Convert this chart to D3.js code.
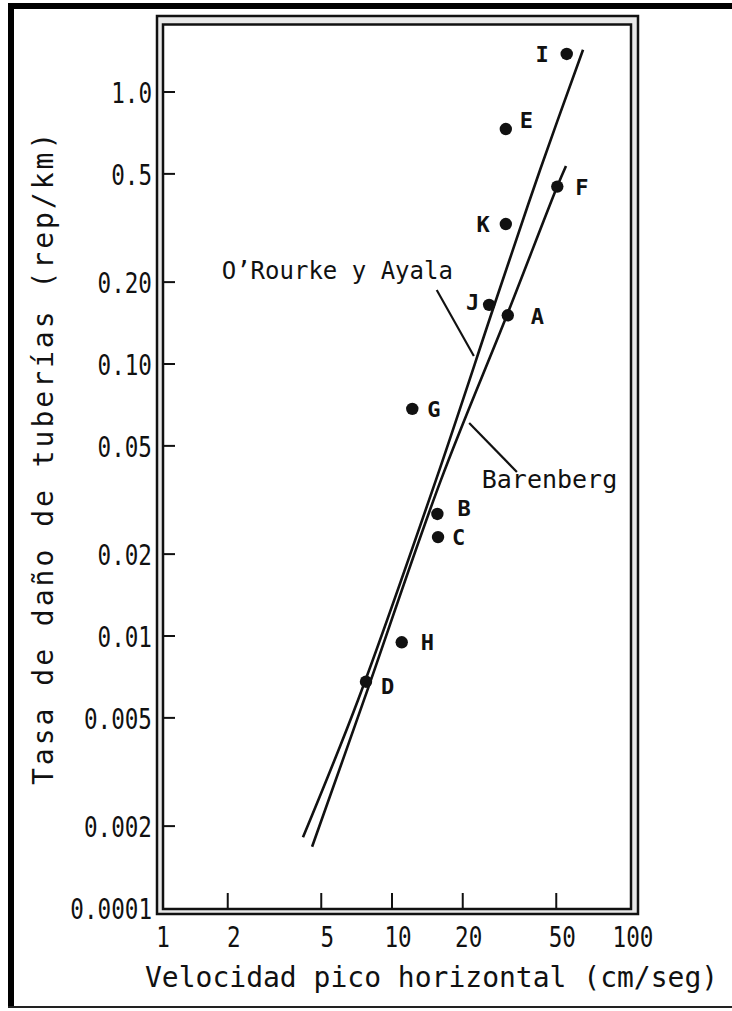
<!DOCTYPE html>
<html>
<head>
<meta charset="utf-8">
<script src="https://cdn.jsdelivr.net/npm/d3@7"></script>
<style>
  html, body { margin: 0; padding: 0; background: #fff; }
  svg { display: block; }
</style>
</head>
<body>
<svg id="chart" width="732" height="1011"></svg>
<script>
// ---- data ----------------------------------------------------------
// Y axis (damage rate, rep/km), log scale
const yTickValues = [1, 0.5, 0.2, 0.1, 0.05, 0.02, 0.01, 0.005, 0.002, 0.001];
const yTickLabels = ["1.0", "0.5", "0.20", "0.10", "0.05", "0.02", "0.01", "0.005", "0.002", "0.0001"];
// X axis (peak horizontal velocity, cm/seg), log scale
const xTickValues = [1, 2, 5, 10, 20, 50, 100];
const xTickLabels = ["1", "2", "5", "10", "20", "50", "100"];

// observed earthquakes
const siteNames    = ["I", "E", "F", "K", "J", "A", "G", "B", "C", "H", "D"];
const siteVelocity = [55.4, 30.5, 50.5, 30.5, 25.9, 31.1, 12.2, 15.6, 15.7, 11.0, 7.75];
const siteRate     = [1.38, 0.731, 0.449, 0.327, 0.165, 0.151, 0.0684, 0.0281, 0.0231, 0.00948, 0.00679];

// empirical relations
const orourkeVelocity = [4.18, 7.17, 15.39, 27.98, 42.65, 65.0];
const orourkeRate     = [0.00182, 0.00582, 0.0375, 0.1763, 0.5167, 1.43];
const barenbergVelocity = [4.57, 7.60, 16.16, 30.86, 50.37, 55.0];
const barenbergRate     = [0.00168, 0.00582, 0.0375, 0.1514, 0.4474, 0.5345];

const curveNames = ["O’Rourke y Ayala", "Barenberg"];
// label anchor (velocity, rate) and leader line (from, to) for each relation
const curveLabelAt = [[1.885, 0.2054], [24.1, 0.035]];
const curveLeader  = [[[15.5, 0.187], [22.3, 0.107]], [[21.3, 0.0607], [34.0, 0.0401]]];

const xTitle = "Velocidad pico horizontal (cm/seg)";
const yTitle = "Tasa de daño de tuberías (rep/km)";

// ---- layout --------------------------------------------------------
const svg = d3.select("#chart");
const ink = "#111";
const frameOuter = { x0: 157, y0: 16, x1: 638, y1: 914 };
const frameInner = { x0: 163, y0: 24.5, x1: 631, y1: 909 };

const x = d3.scaleLog().domain([1, 100]).range([157, 627]);
const y = d3.scaleLog().domain([0.001, 1]).range([908, 92]);

// page border
svg.append("rect").attr("x", 8).attr("y", 3).attr("width", 6).attr("height", 1005).attr("fill", "#000");
svg.append("rect").attr("x", 8).attr("y", 3).attr("width", 724).attr("height", 6).attr("fill", "#000");
svg.append("rect").attr("x", 8).attr("y", 1006).attr("width", 724).attr("height", 2).attr("fill", "#222");

// double frame around the plot
svg.append("rect")
  .attr("x", frameOuter.x0).attr("y", frameOuter.y0)
  .attr("width", frameOuter.x1 - frameOuter.x0).attr("height", frameOuter.y1 - frameOuter.y0)
  .attr("fill", "#e8e8e8").attr("stroke", ink).attr("stroke-width", 2.5);
svg.append("rect")
  .attr("x", frameInner.x0).attr("y", frameInner.y0)
  .attr("width", frameInner.x1 - frameInner.x0).attr("height", frameInner.y1 - frameInner.y0)
  .attr("fill", "#fff").attr("stroke", ink).attr("stroke-width", 2.5);

const tickFont = "'DejaVu Sans Mono', monospace";

// y ticks and labels
const yTicks = yTickValues.map((v, i) => ({ v, label: yTickLabels[i] }));
svg.append("g").selectAll("line")
  .data(yTicks.filter(d => d.v > y.domain()[0]))
  .join("line")
  .attr("x1", frameInner.x0).attr("x2", frameInner.x0 + 12)
  .attr("y1", d => y(d.v)).attr("y2", d => y(d.v))
  .attr("stroke", ink).attr("stroke-width", 2);
svg.append("g").selectAll("text")
  .data(yTicks)
  .join("text")
  .attr("transform", d => `translate(152,${y(d.v) + 11}) scale(0.78,1)`)
  .attr("text-anchor", "end")
  .attr("font-family", tickFont).attr("font-size", 29)
  .attr("fill", ink)
  .text(d => d.label);

// x ticks and labels
const xTicks = xTickValues.map((v, i) => ({ v, label: xTickLabels[i] }));
svg.append("g").selectAll("line")
  .data(xTicks.filter(d => d.v > x.domain()[0] && d.v < x.domain()[1]))
  .join("line")
  .attr("x1", d => x(d.v)).attr("x2", d => x(d.v))
  .attr("y1", frameInner.y1).attr("y2", frameInner.y1 - 16)
  .attr("stroke", ink).attr("stroke-width", 2);
svg.append("g").selectAll("text")
  .data(xTicks)
  .join("text")
  .attr("transform", d => `translate(${x(d.v) + 6},947) scale(0.78,1)`)
  .attr("text-anchor", "middle")
  .attr("font-family", tickFont).attr("font-size", 29)
  .attr("fill", ink)
  .text(d => d.label);

// axis titles
svg.append("text")
  .attr("x", 145).attr("y", 987)
  .attr("font-family", tickFont).attr("font-size", 28)
  .attr("fill", ink)
  .text(xTitle);
svg.append("text")
  .attr("transform", "translate(53,785) rotate(-90)")
  .attr("font-family", tickFont).attr("font-size", 28)
  .attr("letter-spacing", 3)
  .attr("fill", ink)
  .text(yTitle);

// relation curves
const line = d3.line()
  .x(d => x(d[0])).y(d => y(d[1]))
  .curve(d3.curveCatmullRom.alpha(0.5));
const curves = [
  d3.zip(orourkeVelocity, orourkeRate),
  d3.zip(barenbergVelocity, barenbergRate)
];
svg.append("g").selectAll("path")
  .data(curves)
  .join("path")
  .attr("d", line)
  .attr("fill", "none").attr("stroke", ink).attr("stroke-width", 2.6);

// leader lines and curve names
svg.append("g").selectAll("line")
  .data(curveLeader)
  .join("line")
  .attr("x1", d => x(d[0][0])).attr("y1", d => y(d[0][1]))
  .attr("x2", d => x(d[1][0])).attr("y2", d => y(d[1][1]))
  .attr("stroke", ink).attr("stroke-width", 2.2);
svg.append("g").selectAll("text")
  .data(curveNames)
  .join("text")
  .attr("x", (d, i) => x(curveLabelAt[i][0]))
  .attr("y", (d, i) => y(curveLabelAt[i][1]))
  .attr("font-family", tickFont)
  .attr("font-size", (d, i) => i === 0 ? 24 : 25)
  .attr("fill", ink)
  .text(d => d);

// site points with their letters
const labelOffset = {
  I: [-18, 8, "end"], E: [14, -1, "start"], F: [18, 8, "start"], K: [-16, 8, "end"],
  J: [-10, 5, "end"], A: [23, 9, "start"], G: [15, 8, "start"], B: [20, 2, "start"],
  C: [14, 8, "start"], H: [19, 8, "start"], D: [15, 12, "start"]
};
const sites = siteNames.map((n, i) => ({ n, v: siteVelocity[i], r: siteRate[i] }));
svg.append("g").selectAll("circle")
  .data(sites)
  .join("circle")
  .attr("cx", d => x(d.v)).attr("cy", d => y(d.r))
  .attr("r", 6.2).attr("fill", ink);
svg.append("g").selectAll("text")
  .data(sites)
  .join("text")
  .attr("x", d => x(d.v) + labelOffset[d.n][0])
  .attr("y", d => y(d.r) + labelOffset[d.n][1])
  .attr("text-anchor", d => labelOffset[d.n][2])
  .attr("font-family", tickFont).attr("font-weight", "bold").attr("font-size", 22)
  .attr("fill", ink)
  .text(d => d.n);
</script>
</body>
</html>
